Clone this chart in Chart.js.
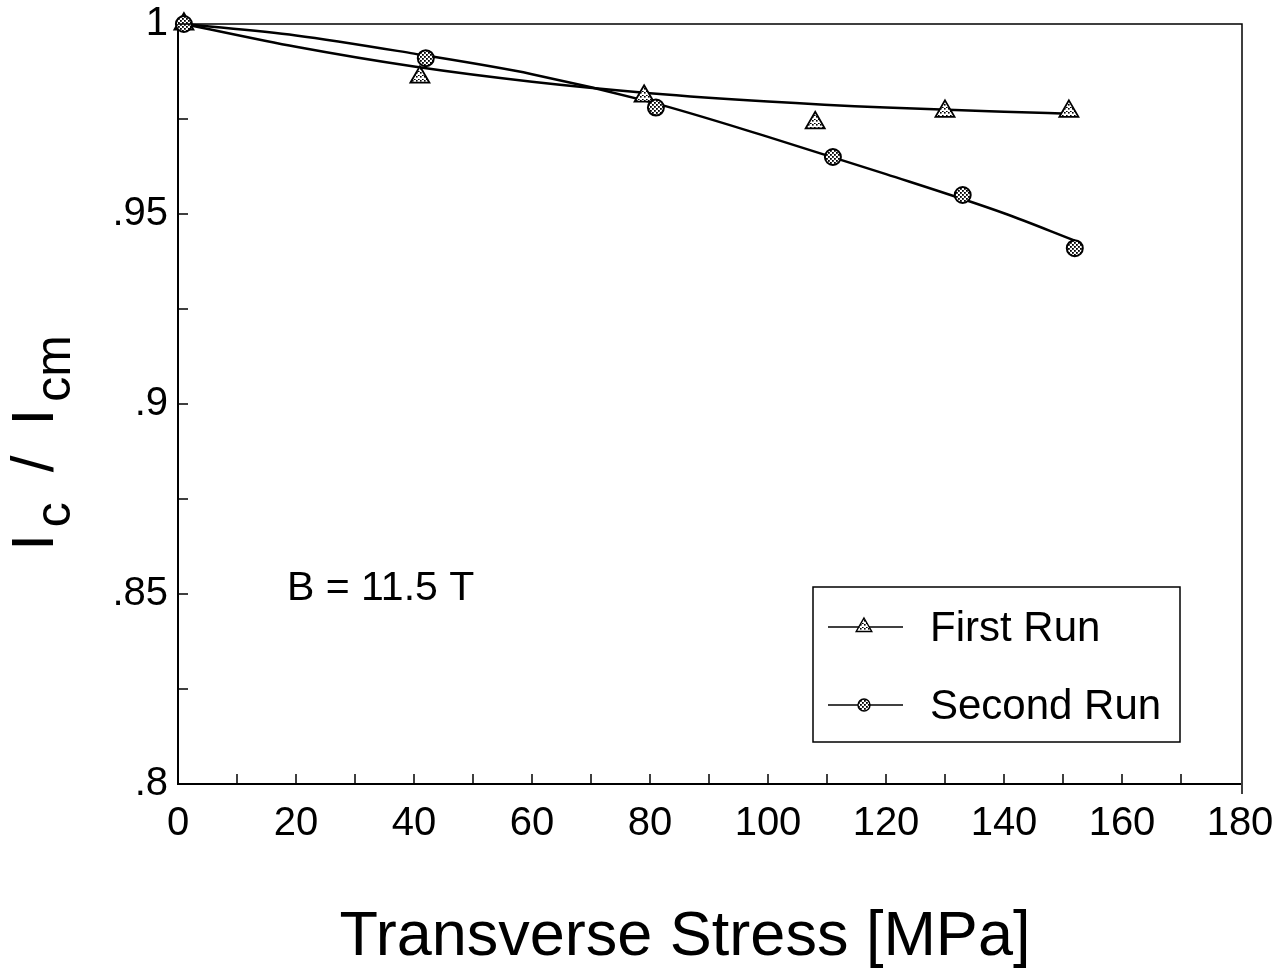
<!DOCTYPE html>
<html>
<head>
<meta charset="utf-8">
<script src="https://cdn.jsdelivr.net/npm/chart.js@4/dist/chart.umd.min.js"></script>
<style>
  html, body { margin: 0; padding: 0; background: #fff; }
  #wrap { width: 1287px; height: 978px; }
</style>
</head>
<body>
<div id="wrap"><canvas id="chart" width="1287" height="978"></canvas></div>
<script>
// Datos
const stressFirst = [1, 41, 79, 108, 130, 151];
const ratioFirst = [1.0, 0.986, 0.981, 0.974, 0.977, 0.977];
const stressSecond = [1, 42, 81, 111, 133, 152];
const ratioSecond = [1.0, 0.991, 0.978, 0.965, 0.955, 0.941];

// Curvas de ajuste
const fitStressFirst = [1, 20, 40, 60, 80, 100, 120, 140, 151];
const fitRatioFirst = [1.0, 0.9940, 0.9888, 0.9848, 0.9818, 0.9796, 0.9780, 0.9769, 0.9764];
const fitStressSecond = [1, 20, 40, 60, 80, 100, 120, 140, 152];
const fitRatioSecond = [1.0, 0.9970, 0.9922, 0.9868, 0.9795, 0.9703, 0.9605, 0.9502, 0.9430];

const seriesNames = ['First Run', 'Second Run'];
const noteText = 'B = 11.5 T';
const xTitle = 'Transverse Stress [MPa]';

const FONT = "'Liberation Sans', Arial, sans-serif";

// Patrones punteados para los marcadores
function makePattern(dots, size, dot) {
    const c = document.createElement('canvas');
    c.width = size;
    c.height = size;
    const g = c.getContext('2d');
    g.fillStyle = '#fff';
    g.fillRect(0, 0, size, size);
    g.fillStyle = '#000';
    dots.forEach(d => g.fillRect(d[0], d[1], dot, dot));
    return document.getElementById('chart').getContext('2d').createPattern(c, 'repeat');
}
const triPattern = makePattern([[0, 0], [2, 3]], 4, 1.6);
const circPattern = makePattern([[0, 0], [2, 2]], 4, 1.8);

function toPoints(xs, ys) {
    return xs.map((x, i) => ({ x: x, y: ys[i] }));
}

// Marco, marcas internas, títulos y leyenda
const decorations = {
    id: 'decorations',
    afterDraw(chart) {
        const ctx = chart.ctx;
        const area = chart.chartArea;
        const xs = chart.scales.x;
        const ys = chart.scales.y;
        ctx.save();
        ctx.strokeStyle = '#000';

        // marco superior y derecho
        ctx.lineWidth = 1.5;
        ctx.beginPath();
        ctx.moveTo(area.left, area.top);
        ctx.lineTo(area.right + 2, area.top);
        ctx.lineTo(area.right + 2, area.bottom + 10);
        ctx.stroke();

        // marcas hacia dentro
        ctx.beginPath();
        for (let v = 10; v < 180; v += 10) {
            const px = xs.getPixelForValue(v);
            ctx.moveTo(px, area.bottom);
            ctx.lineTo(px, area.bottom - 10);
        }
        for (let v = 0.825; v < 0.999; v += 0.025) {
            const py = ys.getPixelForValue(v);
            ctx.moveTo(area.left, py);
            ctx.lineTo(area.left + 10, py);
        }
        ctx.stroke();

        ctx.fillStyle = '#000';

        // título eje X
        ctx.font = '63px ' + FONT;
        ctx.textAlign = 'center';
        ctx.textBaseline = 'alphabetic';
        ctx.fillText(xTitle, 685, 955);

        // título eje Y con subíndices
        const mainF = '60px ' + FONT;
        const subF = '50px ' + FONT;
        const parts = [
            { t: 'I', f: mainF, dy: 0, gap: 7 },
            { t: 'c', f: subF, dy: 17, gap: 30 },
            { t: '/', f: mainF, dy: 0, gap: 30 },
            { t: 'I', f: mainF, dy: 0, gap: 7 },
            { t: 'cm', f: subF, dy: 17, gap: 0 }
        ];
        let total = 0;
        parts.forEach(p => { ctx.font = p.f; p.w = ctx.measureText(p.t).width; total += p.w + p.gap; });
        ctx.translate(53, 443);
        ctx.rotate(-Math.PI / 2);
        ctx.textAlign = 'left';
        let cx = -total / 2;
        parts.forEach(p => {
            ctx.font = p.f;
            ctx.fillText(p.t, cx, p.dy);
            cx += p.w + p.gap;
        });
        ctx.setTransform(1, 0, 0, 1, 0, 0);

        // nota
        ctx.font = '41px ' + FONT;
        ctx.textAlign = 'left';
        ctx.textBaseline = 'middle';
        ctx.fillText(noteText, 287, 589);

        // leyenda
        ctx.lineWidth = 1.5;
        ctx.strokeRect(813, 587, 367, 155);
        const rows = [627, 705];
        rows.forEach((y, i) => {
            ctx.lineWidth = 1.3;
            ctx.beginPath();
            ctx.moveTo(828, y);
            ctx.lineTo(903, y);
            ctx.stroke();
            ctx.lineWidth = 1.4;
            if (i === 0) {
                const r = 9;
                ctx.beginPath();
                ctx.moveTo(864, y - r);
                ctx.lineTo(864 + r * 0.866, y + r / 2);
                ctx.lineTo(864 - r * 0.866, y + r / 2);
                ctx.closePath();
                ctx.fillStyle = triPattern;
                ctx.fill();
                ctx.stroke();
            } else {
                ctx.beginPath();
                ctx.arc(864, y, 6, 0, Math.PI * 2);
                ctx.fillStyle = circPattern;
                ctx.fill();
                ctx.stroke();
            }
            ctx.fillStyle = '#000';
            ctx.font = '42px ' + FONT;
            ctx.textBaseline = 'middle';
            ctx.fillText(seriesNames[i], 930, y + 2);
        });

        ctx.restore();
    }
};

new Chart(document.getElementById('chart'), {
    type: 'scatter',
    data: {
        datasets: [
            {
                label: seriesNames[0] + ' fit',
                data: toPoints(fitStressFirst, fitRatioFirst),
                showLine: true,
                cubicInterpolationMode: 'monotone',
                borderColor: '#000',
                borderWidth: 2.5,
                pointRadius: 0,
                clip: false,
                order: 4
            },
            {
                label: seriesNames[1] + ' fit',
                data: toPoints(fitStressSecond, fitRatioSecond),
                showLine: true,
                cubicInterpolationMode: 'monotone',
                borderColor: '#000',
                borderWidth: 2.5,
                pointRadius: 0,
                clip: false,
                order: 3
            },
            {
                label: seriesNames[0],
                data: toPoints(stressFirst, ratioFirst),
                pointStyle: 'triangle',
                pointRadius: 11,
                pointBackgroundColor: triPattern,
                pointBorderColor: '#000',
                pointBorderWidth: 1.8,
                clip: false,
                order: 2
            },
            {
                label: seriesNames[1],
                data: toPoints(stressSecond, ratioSecond),
                pointStyle: 'circle',
                pointRadius: 8,
                pointBackgroundColor: circPattern,
                pointBorderColor: '#000',
                pointBorderWidth: 2,
                clip: false,
                order: 1
            }
        ]
    },
    options: {
        responsive: false,
        animation: false,
        events: [],
        layout: { padding: { left: 0, top: 24, right: 47, bottom: 0 } },
        plugins: {
            legend: { display: false },
            tooltip: { enabled: false }
        },
        scales: {
            x: {
                type: 'linear',
                min: 0,
                max: 180,
                afterFit(scale) {
                    scale.height = 194;
                    scale.paddingLeft = 0;
                    scale.paddingRight = 0;
                },
                grid: { display: false, drawTicks: false },
                border: { display: true, color: '#000', width: 2 },
                ticks: {
                    stepSize: 20,
                    color: '#000',
                    padding: 16,
                    maxRotation: 0,
                    font: { family: FONT, size: 40 }
                }
            },
            y: {
                type: 'linear',
                min: 0.8,
                max: 1.0,
                afterFit(scale) {
                    scale.width = 178;
                    scale.paddingTop = 0;
                    scale.paddingBottom = 0;
                },
                grid: { display: false, drawTicks: false },
                border: { display: true, color: '#000', width: 2 },
                ticks: {
                    stepSize: 0.05,
                    color: '#000',
                    padding: 10,
                    font: { family: FONT, size: 40 },
                    callback: function(value) {
                        const v = Math.round(value * 100) / 100;
                        if (v === 1) return '1';
                        return String(v).replace('0.', '.');
                    }
                }
            }
        }
    },
    plugins: [decorations]
});
</script>
</body>
</html>
